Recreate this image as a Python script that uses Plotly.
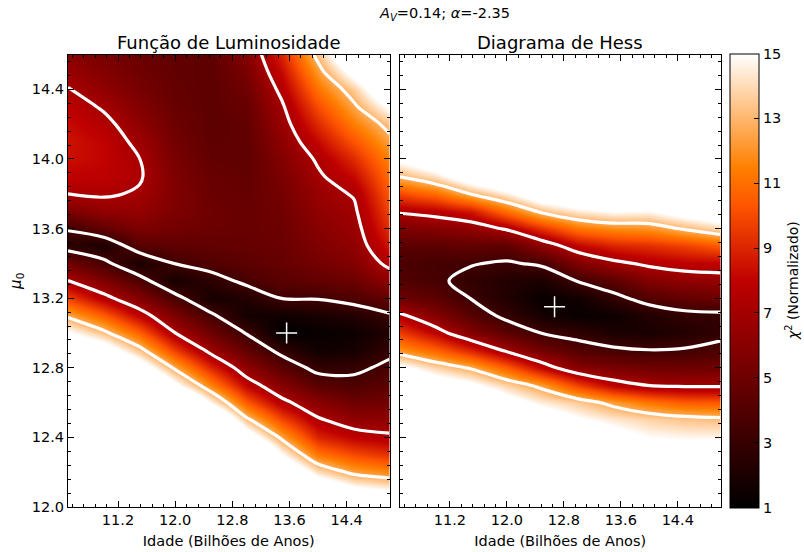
import numpy as np
import plotly.graph_objects as go

# ---------------- data ----------------
ages = [10.5, 11.0, 11.5, 12.0, 12.5, 13.0, 13.5, 14.0, 14.5, 15.0]
mu0 = [12.0, 12.1, 12.2, 12.3, 12.4, 12.5, 12.6, 12.7, 12.8, 12.9, 13.0,
       13.1, 13.2, 13.3, 13.4, 13.5, 13.6, 13.7, 13.8, 13.9, 14.0, 14.1,
       14.2, 14.3, 14.4, 14.5, 14.6]

# chi^2 profiles (one list per age column, bottom -> top in mu0)
lf_cols = [
    [25, 25, 25, 25, 25, 25, 25, 25, 25, 18, 15.2, 12.5, 9.8, 7.2, 5.1, 2.6, 3.4, 5.5, 7.2, 8.0, 8.4, 8.5, 8.3, 7.9, 7.25, 6.6, 6.0],
    [25, 25, 25, 25, 25, 25, 25, 25, 20, 16.5, 13.2, 10.5, 7.7, 5.6, 3.7, 2.0, 4.6, 6.3, 7.4, 7.9, 8.1, 8.0, 7.6, 7.0, 6.3, 5.8, 5.4],
    [25, 25, 25, 25, 25, 25, 25, 20, 16.5, 13.4, 10.6, 8.0, 5.8, 3.9, 1.9, 4.2, 5.6, 6.4, 7.0, 7.35, 7.2, 6.8, 6.3, 5.8, 5.4, 5.1, 4.9],
    [25, 25, 25, 25, 25, 25, 20, 15.5, 12.5, 9.7, 7.2, 5.5, 3.8, 1.8, 3.35, 4.5, 5.2, 5.6, 5.7, 5.6, 5.4, 5.2, 5.0, 4.8, 4.7, 4.6, 4.5],
    [25, 25, 25, 25, 25, 19, 14.8, 11.6, 9.0, 6.7, 5.0, 3.6, 1.8, 2.6, 4.0, 4.6, 4.9, 5.0, 4.9, 4.8, 4.6, 4.5, 4.4, 4.4, 4.4, 4.4, 4.5],
    [25, 25, 25, 21, 16.5, 13.2, 10.4, 8.0, 6.2, 4.6, 3.2, 1.7, 2.2, 3.7, 4.4, 4.7, 4.8, 4.8, 4.7, 4.6, 4.5, 4.5, 4.6, 4.8, 5.1, 5.5, 5.9],
    [25, 22, 18, 15.0, 12.4, 9.9, 7.6, 5.9, 4.3, 2.8, 1.0, 1.6, 3.35, 4.3, 4.7, 4.9, 5.0, 5.1, 5.3, 5.5, 5.8, 6.2, 6.6, 7.0, 7.6, 8.3, 9.0],
    [21, 17.5, 14.2, 11.2, 9.0, 7.4, 6.0, 4.3, 2.8, 1.6, 1.3, 1.9, 3.4, 4.6, 5.3, 5.7, 6.0, 6.3, 6.6, 6.95, 7.4, 8.2, 9.1, 10.1, 11.1, 12.2, 13.3],
    [19, 15.5, 12.4, 10.0, 8.0, 6.3, 5.0, 3.9, 2.9, 1.8, 1.5, 2.3, 3.9, 5.0, 5.8, 6.3, 6.6, 6.9, 7.3, 8.2, 9.2, 10.3, 11.4, 12.5, 13.6, 15.8, 18],
    [18.5, 14.8, 11.8, 9.3, 7.5, 6.2, 5.2, 4.4, 3.7, 2.9, 2.2, 3.1, 4.6, 6.2, 7.6, 8.6, 9.3, 9.9, 10.5, 11.0, 11.6, 12.4, 13.3, 15.3, 17.5, 20, 22],
]
hess_cols = [
    [25, 25, 25, 25, 25, 25, 25, 19, 15.5, 12.0, 9.6, 7.5, 5.0, 4.0, 3.8, 4.3, 5.6, 7.4, 10.0, 12.9, 15.5, 18, 25, 25, 25, 25, 25],
    [25, 25, 25, 25, 25, 25, 20, 16.5, 13.8, 10.7, 7.9, 5.8, 4.4, 3.6, 3.5, 4.4, 5.9, 7.8, 11.0, 14.2, 17, 25, 25, 25, 25, 25, 25],
    [25, 25, 25, 25, 25, 22, 18.5, 15.5, 12.6, 9.0, 5.8, 4.2, 3.25, 2.8, 3.4, 4.6, 6.3, 8.6, 12.9, 16.5, 25, 25, 25, 25, 25, 25, 25],
    [25, 25, 25, 25, 22, 19, 16, 13.8, 10.5, 6.9, 4.3, 2.9, 2.2, 2.3, 3.1, 4.5, 7.4, 11.0, 14.6, 18, 25, 25, 25, 25, 25, 25, 25],
    [25, 25, 25, 22, 19, 16.5, 14.5, 12.3, 8.0, 5.2, 3.25, 1.8, 1.3, 2.0, 3.6, 6.2, 9.4, 13.2, 16.8, 19, 25, 25, 25, 25, 25, 25, 25],
    [25, 25, 22, 19, 16.8, 15.2, 13.6, 9.8, 5.9, 4.1, 2.7, 1.3, 1.6, 3.4, 5.6, 8.1, 11.2, 14.4, 17.5, 25, 25, 25, 25, 25, 25, 25, 25],
    [25, 22, 19.5, 17.5, 15.8, 14.4, 12.3, 7.9, 5.4, 3.6, 2.0, 1.5, 2.8, 4.4, 6.8, 9.0, 11.8, 15.0, 18, 25, 25, 25, 25, 25, 25, 25, 25],
    [24, 21, 18.5, 16.5, 15.0, 13.8, 11.2, 7.1, 5.1, 3.35, 1.9, 2.2, 4.0, 5.8, 7.5, 9.3, 12.0, 14.8, 17.5, 25, 25, 25, 25, 25, 25, 25, 25],
    [23, 20.5, 18, 16.2, 14.8, 13.4, 10.5, 6.9, 5.0, 3.45, 2.3, 2.8, 4.6, 6.3, 7.9, 9.8, 13.0, 16.0, 19, 25, 25, 25, 25, 25, 25, 25, 25],
    [23, 20, 17.8, 16.0, 14.8, 13.2, 10.4, 6.9, 5.1, 3.9, 2.8, 2.9, 4.9, 6.5, 8.0, 10.5, 14.0, 16.8, 19.5, 25, 25, 25, 25, 25, 25, 25, 25],
]
contour_levels = [3.3, 7.18, 12.8]
best_lf = (13.56, 13.0)
best_hess = (12.67, 13.15)
cbar_ticks = [1, 3, 5, 7, 9, 11, 13, 15]

# ---------------- figure ----------------
W, H = 804, 552
FONT = "DejaVu Sans"
TICK = 14.5
gist_heat = [[0.0, "rgb(0,0,0)"], [0.5, "rgb(191,0,0)"],
             [2 / 3, "rgb(255,85,0)"], [0.75, "rgb(255,128,0)"],
             [1.0, "rgb(255,255,255)"]]

zL = np.array(lf_cols, dtype=float).T
zH = np.array(hess_cols, dtype=float).T

fig = go.Figure()
for z, xa, ya in [(zL, "x", "y"), (zH, "x2", "y2")]:
    fig.add_trace(go.Heatmap(x=ages, y=mu0, z=z, zsmooth="best",
                             coloraxis="coloraxis", xaxis=xa, yaxis=ya,
                             hoverinfo="skip"))
    for lvl in contour_levels:
        fig.add_trace(go.Contour(
            x=ages, y=mu0, z=z, xaxis=xa, yaxis=ya, showscale=False,
            contours=dict(start=lvl, end=lvl + 0.001, size=1, coloring="none"),
            line=dict(color="white", width=3.2, smoothing=1.0),
            hoverinfo="skip", showlegend=False))

for (bx, by), xa, ya in [(best_lf, "x", "y"), (best_hess, "x2", "y2")]:
    fig.add_trace(go.Scatter(x=[bx], y=[by], mode="markers", xaxis=xa, yaxis=ya,
                             marker=dict(symbol="cross-thin", size=15,
                                         line=dict(color="white", width=1.5)),
                             showlegend=False, hoverinfo="skip"))

def px_x(p):
    return p / W

def px_y(p):
    return 1 - p / H

x1dom = [px_x(68), px_x(389.5)]
x2dom = [px_x(400), px_x(720.5)]
ydom = [px_y(507), px_y(54.5)]

common_x = dict(range=[10.5, 15.0], dtick=0.8, tick0=11.2, tickformat=".1f",
                ticks="inside", ticklen=6, tickcolor="black", mirror="allticks",
                showline=True, linecolor="black", linewidth=1, showgrid=False,
                zeroline=False, automargin=False,
                tickfont=dict(size=TICK, color="black"),
                minor=dict(dtick=0.16, tick0=11.2, ticks="inside", ticklen=3,
                           tickcolor="black"))
common_y = dict(range=[12.0, 14.6], dtick=0.4, tick0=12.0, tickformat=".1f",
                ticks="inside", ticklen=6, tickcolor="black", mirror="allticks",
                showline=True, linecolor="black", linewidth=1, showgrid=False,
                zeroline=False, automargin=False,
                tickfont=dict(size=TICK, color="black"),
                minor=dict(dtick=0.08, tick0=12.0, ticks="inside", ticklen=3,
                           tickcolor="black"))

fig.update_layout(
    width=W, height=H, margin=dict(l=0, r=0, t=0, b=0, autoexpand=False),
    paper_bgcolor="white", plot_bgcolor="white",
    font=dict(family=FONT, color="black", size=TICK),
    showlegend=False,
    xaxis=dict(domain=x1dom, anchor="y",
               title=dict(text="Idade (Bilhões de Anos)", font=dict(size=14.5), standoff=8),
               **common_x),
    yaxis=dict(domain=ydom, anchor="x",
               title=dict(text="<i>μ</i><sub>0</sub>", font=dict(size=15), standoff=6),
               **common_y),
    xaxis2=dict(domain=x2dom, anchor="y2",
                title=dict(text="Idade (Bilhões de Anos)", font=dict(size=14.5), standoff=8),
                **common_x),
    yaxis2=dict(domain=ydom, anchor="x2", showticklabels=False, **common_y),
    coloraxis=dict(
        cmin=1, cmax=15, colorscale=gist_heat,
        colorbar=dict(
            x=px_x(730), xanchor="left", y=(px_y(507.5) + px_y(53.5)) / 2,
            yanchor="middle", len=(507.5 - 53.5) / H, lenmode="fraction",
            thickness=29, thicknessmode="pixels",
            outlinecolor="black", outlinewidth=1,
            tickvals=cbar_ticks, ticks="inside", ticklen=5, tickcolor="black",
            tickfont=dict(size=TICK, color="black"), xpad=0, ypad=0,
        ),
    ),
    annotations=[
        dict(text="Função de Luminosidade", x=(x1dom[0] + x1dom[1]) / 2,
             y=px_y(42), xref="paper", yref="paper", showarrow=False,
             font=dict(size=18), xanchor="center", yanchor="middle"),
        dict(text="Diagrama de Hess", x=(x2dom[0] + x2dom[1]) / 2,
             y=px_y(42), xref="paper", yref="paper", showarrow=False,
             font=dict(size=18), xanchor="center", yanchor="middle"),
        dict(text="<i>A</i><sub><i>V</i></sub>=0.14; <i>α</i>=-2.35",
             x=px_x(445), y=px_y(14), xref="paper", yref="paper", showarrow=False,
             font=dict(size=14.5), xanchor="center", yanchor="middle"),
        dict(text="<i>χ</i><sup>2</sup> (Normalizado)", textangle=-90,
             x=px_x(792), y=px_y(281), xref="paper", yref="paper", showarrow=False,
             font=dict(size=14), xanchor="center", yanchor="middle"),
    ],
)

fig.write_html("out.html")
